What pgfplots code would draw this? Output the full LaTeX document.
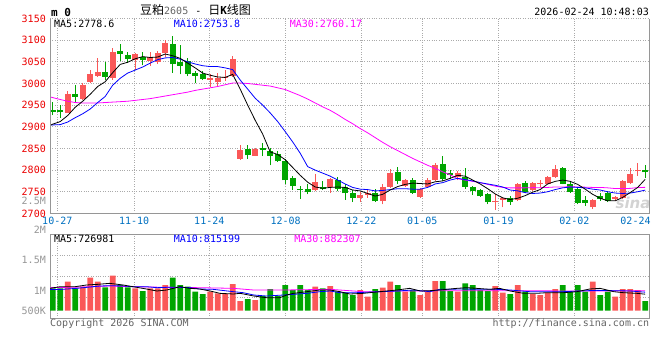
\documentclass[border=0pt]{standalone}
\usepackage{pgfplots}
\pgfplotsset{compat=1.18}
\usepackage{pgfplotstable}
\usepackage{fontspec}
\setmainfont{DejaVu Sans Mono}
\newfontfamily\cjk{Noto Sans CJK SC}
\newfontfamily\wmfont{DejaVu Sans}
\definecolor{upred}{RGB}{250,88,88}
\definecolor{dngreen}{RGB}{0,165,0}
\definecolor{gridgray}{RGB}{170,170,170}
\definecolor{axgray}{RGB}{150,150,150}
\definecolor{ticred}{RGB}{235,0,0}
\definecolor{datblue}{RGB}{0,112,192}
\definecolor{volgray}{RGB}{150,150,150}
\definecolor{copygray}{RGB}{100,100,100}
\definecolor{mablue}{RGB}{0,0,255}
\definecolor{mamag}{RGB}{255,0,255}

\pgfplotstableread{
j o h l c
2 2932 2982 2932 2975
4 2965 3000 2962 2996
5 3004 3031 3000 3023
6 3018 3058 3015 3027
8 3012 3081 3009 3073
11 3055 3071 3032 3067
13 3051 3073 3040 3060
14 3050 3075 3046 3071
15 3071 3100 3060 3094
21 3009 3023 2991 3012
22 3004 3025 2995 3013
23 3012 3032 3006 3015
24 3018 3063 3015 3056
25 2826 2857 2824 2847
27 2833 2850 2832 2849
35 2753 2791 2751 2772
37 2761 2782 2747 2780
41 2736 2749 2726 2742
42 2742 2755 2736 2747
44 2728 2767 2721 2761
45 2761 2803 2759 2793
47 2764 2780 2761 2778
49 2738 2758 2736 2757
50 2761 2782 2759 2778
51 2776 2817 2774 2812
54 2784 2797 2777 2793
59 2726 2745 2708 2729
60 2732 2738 2714 2736
62 2731 2770 2729 2769
64 2754 2773 2751 2770
65 2767 2776 2761 2770
66 2768 2786 2767 2783
67 2783 2812 2782 2803
72 2714 2734 2711 2732
75 2734 2740 2729 2737
76 2736 2777 2734 2774
77 2770 2805 2768 2792
78 2797 2816 2787 2800
}\upcandles

\pgfplotstableread{
j o h l c
0 2938 2958 2927 2933
1 2938 2950 2921 2933
3 2975 2996 2955 2969
7 3027 3050 3009 3015
9 3075 3091 3052 3068
10 3065 3073 3048 3056
12 3062 3072 3042 3054
16 3091 3110 3025 3044
17 3049 3088 3021 3041
18 3052 3058 3017 3023
19 3025 3028 3000 3018
20 3023 3029 3008 3010
26 2849 2857 2826 2834
28 2850 2862 2832 2847
29 2845 2851 2811 2833
30 2838 2843 2819 2820
31 2820 2826 2769 2776
32 2782 2786 2754 2763
33 2757 2763 2734 2754
34 2757 2767 2744 2749
36 2761 2774 2754 2757
38 2777 2783 2751 2757
39 2761 2767 2731 2746
40 2747 2755 2726 2736
43 2747 2757 2726 2728
46 2795 2806 2767 2774
48 2778 2782 2745 2748
52 2814 2833 2774 2780
53 2793 2801 2780 2789
55 2784 2805 2757 2761
56 2761 2764 2742 2751
57 2755 2757 2738 2740
58 2744 2748 2721 2726
61 2736 2740 2720 2726
63 2770 2774 2746 2749
68 2804 2808 2767 2768
69 2768 2774 2748 2749
70 2757 2759 2721 2725
71 2732 2740 2717 2725
73 2740 2748 2729 2734
74 2748 2751 2726 2729
79 2801 2812 2782 2795
}\dncandles

\pgfplotstableread{
j v
2 1277
4 1057
5 1453
6 1277
8 1541
11 984
13 984
14 984
15 1131
21 837
22 764
23 735
24 1175
25 427
27 471
35 1057
37 1087
41 911
42 617
44 1013
45 1277
47 837
49 691
50 837
51 1307
54 837
59 1087
60 793
62 1131
64 735
65 691
66 793
67 955
72 1277
75 617
76 955
77 955
78 911
}\upvol

\pgfplotstableread{
j v
0 984
1 984
3 984
7 1028
9 1131
10 1028
12 867
16 1453
17 1131
18 1057
19 837
20 735
26 515
28 647
29 955
30 647
31 1131
32 911
33 1131
34 911
36 984
38 837
39 793
40 691
43 955
46 1131
48 911
52 1307
53 867
55 1204
56 1131
57 911
58 867
61 735
63 837
68 1131
69 837
70 1131
71 837
73 691
74 837
79 427
}\dnvol

\pgfplotsset{
  commonx/.style={
    scale only axis, width=599pt,
    xmin=-0.36, xmax=79.51,
    xtick={0.613,10.85,20.88,31.07,41.17,49.28,59.44,69.55},
    grid=major,
    major grid style={gridgray, dash pattern=on 0.8pt off 1.6pt, line width=0.8pt},
    major tick length=0pt,
    tick style={draw=none},
    tick label style={font=\fontsize{10}{12}\selectfont},
    /pgf/number format/assume math mode=true,
    /pgf/number format/1000 sep={},
  },
  cw/.style={draw=none, mark=none, forget plot,
    error bars/.cd, y dir=plus, y explicit, error mark=none,
    error bar style={draw=#1, solid, line width=1pt}},
  cb/.style={draw=none, mark=none, forget plot,
    error bars/.cd, y dir=plus, y explicit, error mark=none,
    error bar style={draw=#1, fill=#1, solid, line width=5.7pt}},
}

\begin{document}
\begin{tikzpicture}[font=\fontsize{10}{12}\selectfont]
\path[use as bounding box] (0pt,0pt) rectangle (660pt,360pt);

% ---------------- price panel ----------------
\begin{axis}[commonx, name=price,
  at={(50pt,146.6pt)}, anchor=south west, height=194.9pt,
  ymin=2700, ymax=3150, ytick={2700,2750,...,3150},
  xticklabels={10-27,11-10,11-24,12-08,12-22,01-05,01-19,02-02},
  extra x ticks={77.71}, extra x tick labels={02-24},
  extra x tick style={grid=none},
  axis line style={draw=none},
  yticklabel style={text=ticred, anchor=east, inner sep=0pt, xshift=-4pt},
  xticklabel style={text=datblue, anchor=north, inner sep=0pt, yshift=-3.5pt},
]
% wicks
\addplot[cw=upred] table[x=j, y=l, y error plus expr=\thisrow{h}-\thisrow{l}] {\upcandles};
\addplot[cw=dngreen] table[x=j, y=l, y error plus expr=\thisrow{h}-\thisrow{l}] {\dncandles};
% bodies
\addplot[cb=upred] table[x=j, y=o, y error plus expr=\thisrow{c}-\thisrow{o}] {\upcandles};
\addplot[cb=dngreen] table[x=j, y=c, y error plus expr=\thisrow{o}-\thisrow{c}] {\dncandles};

% MA30
\addplot[mamag, line width=0.8pt] coordinates {
(-0.36,2969) (1,2963) (2,2959) (3,2956) (4,2955) (5,2955) (6,2955) (7,2956) (8,2957) (9,2958)
(10,2959) (11,2961) (12,2963) (13,2965) (14,2968) (15,2971) (16,2974) (17,2977) (18,2980) (19,2984)
(20,2987) (21,2990) (22,2993) (23,2997) (24,3001) (25,3001) (26,3000) (27,2998) (28,2996) (29,2994)
(30,2990) (31,2986) (32,2979) (33,2972) (34,2964) (35,2955) (36,2946) (37,2938) (38,2928) (39,2917)
(40,2907) (41,2896) (42,2886) (43,2875) (44,2864) (45,2854) (46,2845) (47,2836) (48,2827) (49,2819)
(50,2811) (51,2804) (52,2796) (53,2789) (54,2780) (55,2777) (56,2774) (57,2771) (58,2767) (59,2763)
(60,2760) (61,2759) (62,2759) (63,2759) (64,2759.5) (65,2759.4) (66,2760) (67,2761) (68,2761) (69,2761.5)
(70,2761) (71,2760.6) (72,2760) (73,2760) (74,2759) (75,2757.4) (76,2757.4) (77,2757.8) (78,2759.6) (79,2760.17)
};
% MA10
\addplot[mablue, line width=0.8pt] coordinates {
(-0.36,2904) (1,2905) (2,2911) (3,2921) (4,2930) (5,2941) (6,2956) (7,2970) (8,2996) (9,3012)
(10,3024) (11,3031) (12,3038) (13,3047) (14,3055) (15,3059) (16,3060) (17,3056) (18,3050) (19,3045)
(20,3041) (21,3039) (22,3039) (23,3036) (24,3032) (25,3008) (26,2987) (27,2966) (28,2950) (29,2932)
(30,2912) (31,2889) (32,2865) (33,2839) (34,2808) (35,2800) (36,2793) (37,2786) (38,2777) (39,2768)
(40,2760) (41,2756) (42,2755) (43,2752) (44,2753) (45,2755) (46,2757) (47,2757) (48,2756) (49,2756)
(50,2760) (51,2768) (52,2771) (53,2777) (54,2781) (55,2778) (56,2775) (57,2771) (58,2768) (59,2765)
(60,2761) (61,2754) (62,2752) (63,2748) (64,2746) (65,2747) (66,2750) (67,2755) (68,2759) (69,2761)
(70,2760) (71,2759) (72,2756) (73,2754) (74,2750) (75,2747) (76,2746) (77,2747) (78,2750) (79,2753.8)
};
% MA5
\addplot[black, line width=0.8pt] coordinates {
(-0.36,2903) (0,2906) (1,2912) (2,2926) (3,2945) (4,2959) (5,2975) (6,2993) (7,3004) (8,3025) (9,3044)
(10,3049) (11,3057) (12,3062) (13,3060) (14,3061) (15,3068) (16,3064) (17,3058) (18,3047) (19,3036)
(20,3024) (21,3019) (22,3015) (23,3014) (24,3021) (25,2987) (26,2950) (27,2915) (28,2883) (29,2842)
(30,2836) (31,2824) (32,2806) (33,2788) (34,2772) (35,2761) (36,2758) (37,2760) (38,2761) (39,2760)
(40,2754) (41,2752) (42,2746) (43,2740) (44,2744) (45,2754) (46,2762) (47,2767) (48,2770) (49,2769)
(50,2768) (51,2773) (52,2775) (53,2781) (54,2788) (55,2786) (56,2777) (57,2768) (58,2757) (59,2745)
(60,2736) (61,2732) (62,2735) (63,2741) (64,2749) (65,2755) (66,2768) (67,2774) (68,2777) (69,2774)
(70,2767) (71,2756) (72,2744) (73,2735) (74,2729) (75,2729) (76,2737) (77,2748) (78,2760) (79,2778.6)
};
\end{axis}
\draw[axgray, line width=0.9pt] (price.north west) -- (price.south west) -- (price.south east) -- (price.north east);

% ---------------- volume panel ----------------
\begin{axis}[commonx, name=vol,
  at={(50pt,41.7pt)}, anchor=south west, height=84pt,
  ymin=-334.4, ymax=3361.6, ytick={589.6,1513.6,2437.6},
  xmajorticks=false, ymajorticks=false,
  axis line style={axgray, line width=0.9pt},
]
\addplot[ybar, bar width=5.7pt, bar shift=0pt, fill=upred, draw=none, forget plot] table[x=j, y=v] {\upvol};
\addplot[ybar, bar width=5.7pt, bar shift=0pt, fill=dngreen, draw=none, forget plot] table[x=j, y=v] {\dnvol};
% MA30 volume
\addplot[mamag, line width=0.8pt] coordinates {
(-0.36,1013) (4.1,1043) (7.6,1087) (10.7,1057) (15.2,1028) (19.6,1013) (24.1,984) (26.8,911)
(30.8,911) (37,940) (41.4,837) (43.6,837) (45.9,867) (49.4,867) (52.5,881) (56.5,881) (59.2,881)
(63.6,881) (68.1,867) (72.5,867) (79,882)
};
% MA10 volume
\addplot[mablue, line width=0.8pt] coordinates {
(-0.36,930) (1.2,940) (3.2,984) (6.3,1087) (7.6,1101) (9.4,1087) (10.7,1057) (12.5,1057) (13.9,1013)
(15.2,1028) (17,1028) (18.3,1013) (19.6,955) (21.4,940) (24.1,837) (25.4,793) (26.8,691) (28.5,647)
(30.8,691) (32.1,720) (33.9,764) (35.6,837) (37,867) (38.3,793) (40.5,793) (43.6,837) (45.9,867)
(48.1,911) (50.3,837) (51.6,940) (54.7,955) (57,940) (59.2,940) (61,911) (63.6,837) (65.9,837)
(68.1,837) (70.3,867) (72.5,896) (74.8,881) (77,867) (79,815)
};
% MA5 volume
\addplot[black, line width=0.8pt] coordinates {
(-0.36,984) (1,1057) (3,1057) (4.5,1131) (6,1160) (7.6,1204) (9.4,1131) (10.7,1057) (12.5,955)
(13.9,867) (15.2,911) (17,1057) (18.3,984) (19.6,955) (21,867) (22.3,764) (24.1,735) (25,764)
(26.8,647) (28.5,573) (30.3,573) (31.2,691) (32.1,764) (33.9,837) (35.6,911) (37,911) (38.3,837)
(39.6,735) (41.4,764) (43.6,837) (45.9,911) (47.6,984) (49,867) (50.3,881) (51.6,911) (53.9,984)
(55.2,1013) (56.5,984) (58.3,940) (59.6,984) (61,867) (62.8,764) (64.5,764) (65.9,793) (68.1,793)
(69.9,837) (71.6,955) (73,984) (74.8,837) (76.1,793) (77.9,764) (79,727)
};
\end{axis}

% ---------------- texts ----------------
\node[anchor=west, inner sep=0pt, font=\fontsize{11}{12}\selectfont\bfseries] at (51pt,347.5pt) {m 0};
\node[anchor=west, inner sep=0pt] at (140pt,350.5pt)
  {{\cjk\fontsize{12}{12}\selectfont 豆粕}{\fontsize{10}{12}\selectfont\color{copygray}2605}\hspace{7pt}{\fontsize{10}{12}\selectfont -}\hspace{7pt}{\cjk\fontsize{12}{12}\selectfont 日}{\fontsize{11}{12}\selectfont\bfseries K}{\cjk\fontsize{12}{12}\selectfont 线图}};
\node[anchor=east, inner sep=0pt] at (649pt,348.3pt) {2026-02-24 10:48:03};

\node[anchor=west, inner sep=0pt, text=black] at (54pt,336pt) {MA5:2778.6};
\node[inner sep=0pt, text=mablue] at (207pt,336pt) {MA10:2753.8};
\node[inner sep=0pt, text=mamag] at (326pt,336pt) {MA30:2760.17};

\node[anchor=west, inner sep=0pt, text=black] at (54pt,121pt) {MA5:726981};
\node[inner sep=0pt, text=mablue] at (207pt,121pt) {MA10:815199};
\node[inner sep=0pt, text=mamag] at (327.5pt,121pt) {MA30:882307};

\node[anchor=east, inner sep=0pt, text=volgray] at (46pt,159.3pt) {2.5M};
\node[anchor=east, inner sep=0pt, text=volgray] at (46pt,130pt) {2M};
\node[anchor=east, inner sep=0pt, text=volgray] at (46pt,100pt) {1.5M};
\node[anchor=east, inner sep=0pt, text=volgray] at (46pt,69.3pt) {1M};
\node[anchor=east, inner sep=0pt, text=volgray] at (46pt,49.3pt) {500K};

\node[anchor=west, inner sep=0pt, text=copygray] at (50pt,36.7pt) {Copyright 2026 SINA.COM};
\node[anchor=east, inner sep=0pt, text=copygray] at (649.3pt,36pt) {http://finance.sina.com.cn};

\node[text=gray, opacity=0.35, inner sep=0pt, font=\wmfont\fontsize{15}{15}\selectfont\bfseries\itshape] at (633pt,157pt) {sina};
\end{tikzpicture}
\end{document}
